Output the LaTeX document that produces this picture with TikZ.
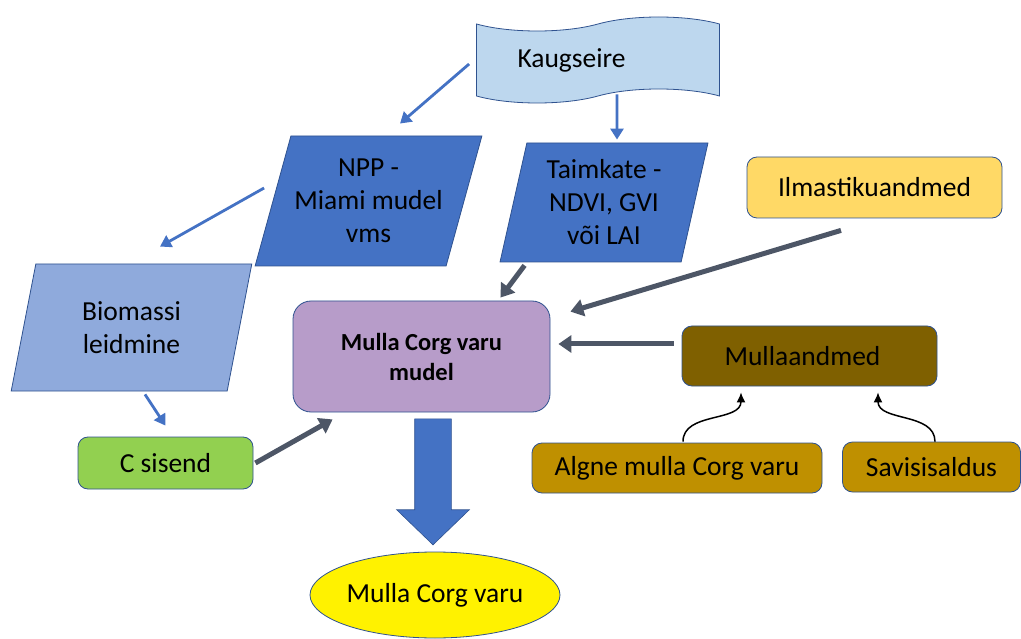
\documentclass[tikz,border=0pt]{standalone}
\usepackage{fontspec}
\setmainfont{Carlito}
\usetikzlibrary{shapes.geometric,shapes.symbols,shapes.arrows,arrows.meta}

\definecolor{rimcol}{HTML}{2F528F}
\definecolor{tapecol}{HTML}{BDD7EE}
\definecolor{darkblue}{HTML}{4472C4}
\definecolor{paleblue}{HTML}{8FAADC}
\definecolor{sunyellow}{HTML}{FFD966}
\definecolor{lilac}{HTML}{B79CC9}
\definecolor{mudbrown}{HTML}{7F6000}
\definecolor{ochre}{HTML}{BF9000}
\definecolor{leafgreen}{HTML}{92D050}
\definecolor{slategrey}{HTML}{4D5666}

\begin{document}
\begin{tikzpicture}[x=1pt,y=-1pt]
                \tikzstyle{every node}+=[inner sep=0pt, font=\fontsize{27.5}{33}\selectfont]
                \tikzstyle{para}=[trapezium, trapezium stretches=true, draw=rimcol, line width=0.8pt, align=center]
                \tikzstyle{rbox}=[draw=rimcol, line width=0.8pt, rounded corners=10pt]
                \tikzstyle{thinarr}=[draw=darkblue, line width=2.8pt, -{Triangle[length=11pt,width=13pt]}]
                \tikzstyle{feed}=[draw=slategrey, line width=5pt, -{Triangle[length=13pt,width=17pt]}]
                \tikzstyle{curly}=[draw=black, line width=1.5pt, -{Latex[length=10pt,width=9pt]}]
                \useasboundingbox (0,0) rectangle (1021,639);
                % inputs
                \node [tape, draw=rimcol, line width=0.8pt, fill=tapecol, minimum width=243pt, minimum height=86pt,
                       tape bend height=14pt, inner xsep=41pt, text width=161pt, align=left] (kaug) at (598,60) {Kaugseire};
                \node [para, fill=darkblue, trapezium left angle=67.8, trapezium right angle=112.2,
                       minimum width=227pt, minimum height=130pt] (npp) at (368.5,201) {NPP -\\Miami mudel\\vms};
                \node [para, fill=darkblue, trapezium left angle=76.8, trapezium right angle=103.2,
                       minimum width=208pt, minimum height=119pt] (taim) at (604,202.5) {Taimkate -\\NDVI, GVI\\või LAI};
                \node [para, fill=paleblue, trapezium left angle=76.3, trapezium right angle=103.7,
                       minimum width=241pt, minimum height=127pt] (bio) at (131.5,327.5) {Biomassi\\leidmine};
                \node [rbox, fill=sunyellow, minimum width=255pt, minimum height=61pt] (ilm) at (874.5,187.5) {Ilmastikuandmed};
                % model
                \node [rbox, fill=lilac, rounded corners=18pt, minimum width=257pt, minimum height=111pt, align=center,
                       font=\fontsize{24.5}{30}\selectfont\bfseries] (mudel) at (421.5,356.5) {Mulla Corg varu\\mudel};
                \node [rbox, fill=mudbrown, minimum width=255pt, minimum height=60pt] (mull) at (809.5,356) {Mullaandmed\hspace*{14pt}};
                \node [rbox, fill=leafgreen, minimum width=175pt, minimum height=52pt] (csis) at (165.5,463) {C sisend};
                \node [rbox, fill=ochre, minimum width=290pt, minimum height=50pt] (algne) at (677,468) {Algne mulla Corg varu};
                \node [rbox, fill=ochre, minimum width=178pt, minimum height=50pt] (savi) at (931.5,467) {Savisisaldus};
                % output
                \node [single arrow, shape border rotate=270, fill=darkblue, draw=rimcol, line width=0.6pt, inner sep=18pt,
                       minimum height=126pt, minimum width=72pt, single arrow head extend=18pt,
                       single arrow tip angle=92] (down) at (433,473) {};
                \node [ellipse, draw=rimcol, line width=0.8pt, fill=yellow, minimum width=250pt, minimum height=86pt] (varu) at (435,595) {Mulla Corg varu};
                % connectors
                \draw [thinarr] ([xshift=-7pt,yshift=-4pt]kaug.west) -- ([xshift=31.5pt,yshift=12pt]npp.north);
                \draw [thinarr] ([xshift=19pt,yshift=2pt]kaug.south) -- ([xshift=13pt,yshift=3pt]taim.north);
                \draw [thinarr] ([xshift=-8.5pt,yshift=13pt]npp.west) -- ([xshift=28.5pt,yshift=17pt]bio.north);
                \draw [thinarr] ([xshift=13.5pt,yshift=-3pt]bio.south) -- ([yshift=11pt]csis.north);
                \draw [feed] ([xshift=25pt,yshift=-3pt]taim.bottom left corner) -- ([xshift=-50pt,yshift=3pt]mudel.north east);
                \draw [feed] ([xshift=-33.5pt,yshift=-12pt]ilm.south) -- ([xshift=20pt,yshift=-11pt]mudel.north east);
                \draw [feed] ([xshift=-8pt,yshift=12pt]mull.west) -- ([xshift=8pt,yshift=12.5pt]mudel.east);
                \draw [feed] ([xshift=2pt]csis.east) -- ([xshift=40pt,yshift=-7pt]mudel.south west);
                \draw [curly] ([xshift=6pt,yshift=1pt]algne.north) to[out=90,in=-90] ([xshift=-68.5pt,yshift=-6pt]mull.south);
                \draw [curly] ([xshift=3.5pt]savi.north) to[out=90,in=-90] ([xshift=68.5pt,yshift=-6pt]mull.south);
            \end{tikzpicture}
\end{document}
